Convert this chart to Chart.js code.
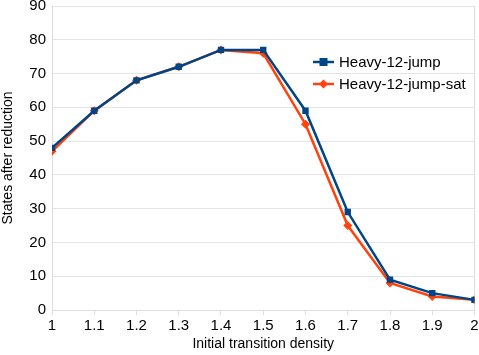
<!DOCTYPE html>
<html>
<head>
<meta charset="utf-8">
<script src="https://cdn.jsdelivr.net/npm/chart.js@4"></script>
<style>
  html, body { margin: 0; padding: 0; background: #fff; }
  #wrap { width: 479px; height: 355px; }
</style>
</head>
<body>
<div id="wrap"><canvas id="chart" width="479" height="355"></canvas></div>
<script>
// DATA
const densities = [1, 1.1, 1.2, 1.3, 1.4, 1.5, 1.6, 1.7, 1.8, 1.9, 2];
const jumpStates = [48, 59, 68, 72, 77, 77, 59, 29, 9, 5, 3];
const jumpSatStates = [47, 59, 68, 72, 77, 76, 55, 25, 8, 4, 3];
const seriesNames = ["Heavy-12-jump", "Heavy-12-jump-sat"];

const FONT = "'Liberation Sans', Arial, sans-serif";

function toPoints(xs, ys){
  return xs.map((x, i) => ({ x: x, y: ys[i] }));
}

// legend drawn inside plot area, top right
const insideLegend = {
  id: 'insideLegend',
  afterDraw(chart){
    const ctx = chart.ctx;
    const x0 = 313, y0 = 62, rowH = 22;
    chart.data.datasets.forEach((ds, i) => {
      const y = y0 + i * rowH;
      ctx.save();
      ctx.strokeStyle = ds.borderColor;
      ctx.lineWidth = 2.5;
      ctx.beginPath();
      ctx.moveTo(x0, y);
      ctx.lineTo(x0 + 21, y);
      ctx.stroke();
      ctx.fillStyle = ds.borderColor;
      if (ds.pointStyle === 'rect') {
        ctx.fillRect(x0 + 10.5 - 4, y - 4, 8, 8);
      } else {
        ctx.beginPath();
        ctx.moveTo(x0 + 10.5, y - 4.5);
        ctx.lineTo(x0 + 15, y);
        ctx.lineTo(x0 + 10.5, y + 4.5);
        ctx.lineTo(x0 + 6, y);
        ctx.closePath();
        ctx.fill();
      }
      ctx.fillStyle = '#000';
      ctx.font = '15px ' + FONT;
      ctx.textBaseline = 'middle';
      ctx.fillText(ds.label, x0 + 26, y + 1);
      ctx.restore();
    });
  }
};

new Chart(document.getElementById("chart"), {
  type: 'line',
  data: {
    datasets: [{
      label: seriesNames[0],
      data: toPoints(densities, jumpStates),
      borderColor: "#004586",
      backgroundColor: "#004586",
      borderWidth: 2.5,
      pointStyle: 'rect',
      pointRadius: 4.5,
      pointBorderWidth: 0,
      tension: 0
    }, {
      label: seriesNames[1],
      data: toPoints(densities, jumpSatStates),
      borderColor: "#ff420e",
      backgroundColor: "#ff420e",
      borderWidth: 2.5,
      pointStyle: 'rectRot',
      pointRadius: 4.5,
      pointBorderWidth: 0,
      tension: 0
    }]
  },
  options: {
    responsive: false,
    animation: false,
    layout: { padding: 0 },
    plugins: {
      legend: { display: false },
      tooltip: { enabled: false }
    },
    scales: {
      x: {
        type: 'linear',
        min: 1,
        max: 2,
        afterBuildTicks(axis){
          axis.ticks = densities.map(v => ({ value: v }));
        },
        afterFit(axis){
          axis.height = 45;
          axis.paddingRight = 4;
        },
        ticks: {
          color: '#000',
          font: { family: FONT, size: 15 },
          padding: 2,
          maxRotation: 0,
          callback: v => String(Math.round(v * 10) / 10)
        },
        grid: {
          color: ctx => (ctx.tick && ctx.tick.value === 2) ? '#dddddd' : 'rgba(0,0,0,0)',
          tickColor: '#dddddd',
          tickLength: 5,
          drawTicks: true
        },
        border: { display: true, color: '#dddddd' },
        title: {
          display: true,
          text: 'Initial transition density',
          color: '#000',
          font: { family: FONT, size: 14 },
          padding: { top: 2, bottom: 2 }
        }
      },
      y: {
        min: 0,
        max: 90,
        afterFit(axis){
          axis.width = 52;
          axis.paddingTop = 6;
        },
        ticks: {
          stepSize: 10,
          color: '#000',
          font: { family: FONT, size: 15 },
          padding: 6
        },
        grid: {
          color: '#e4e4e4',
          drawTicks: false
        },
        border: { display: true, color: '#dddddd' },
        title: {
          display: true,
          text: 'States after reduction',
          color: '#000',
          font: { family: FONT, size: 14 },
          padding: { top: 0, bottom: 4 }
        }
      }
    }
  },
  plugins: [insideLegend]
});
</script>
</body>
</html>
